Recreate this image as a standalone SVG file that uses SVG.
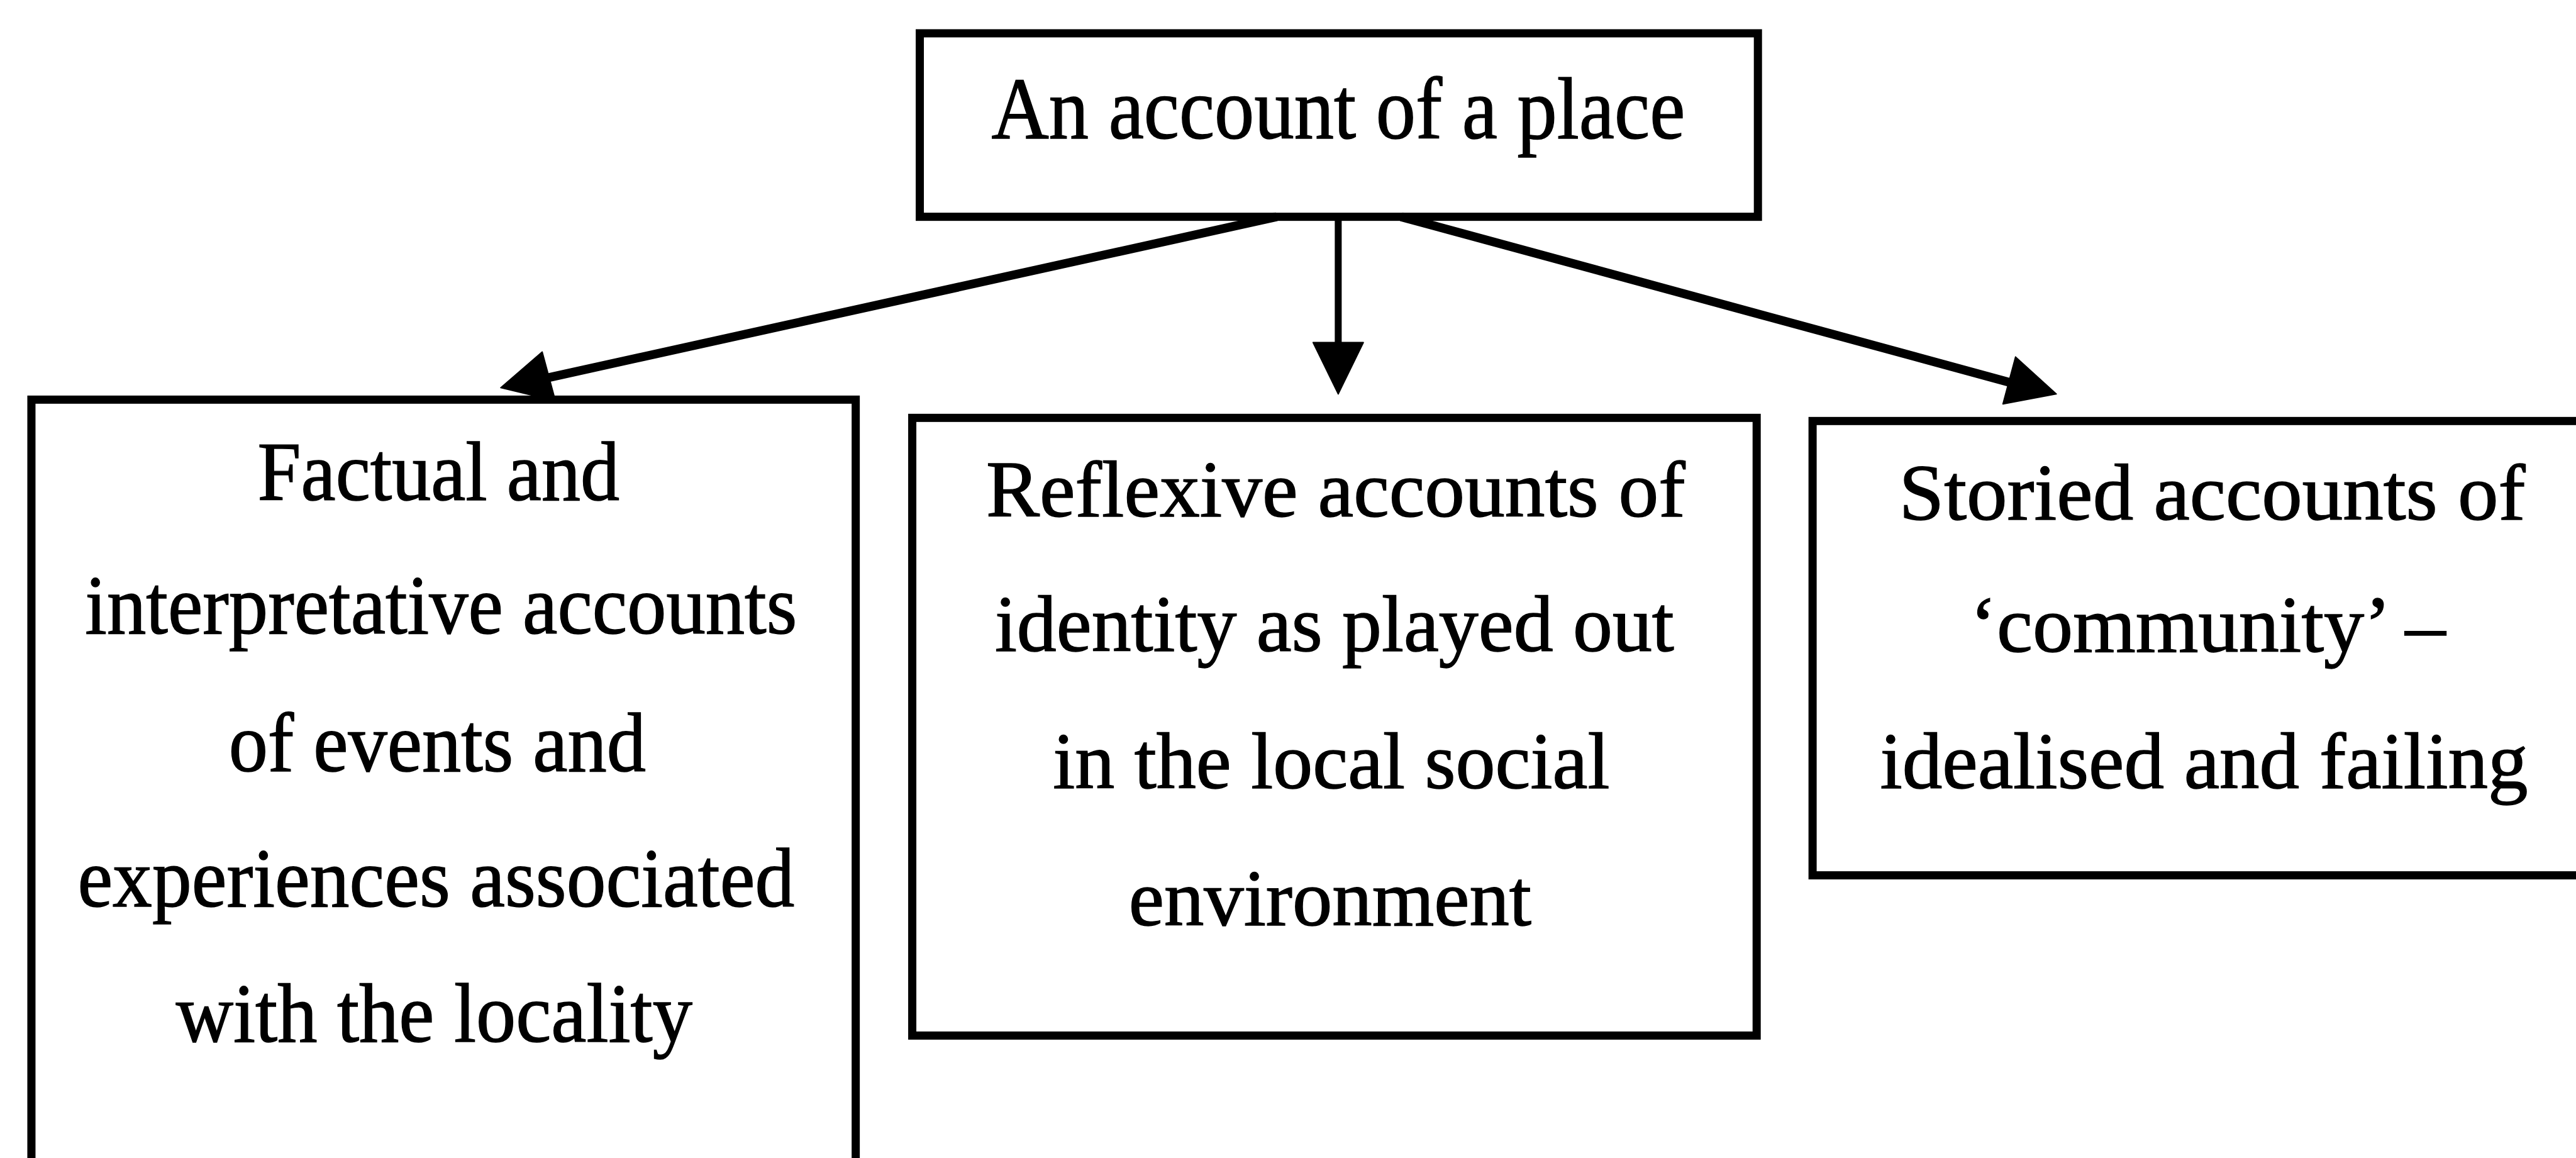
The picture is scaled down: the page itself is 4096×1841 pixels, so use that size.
<svg xmlns="http://www.w3.org/2000/svg" width="4096" height="1841" viewBox="0 0 4096 1841">
<style>
.box{fill:#fff;stroke:#000;stroke-width:13}
.t{font-family:"Liberation Serif","Times New Roman",serif;fill:#000;stroke:#000;stroke-width:1.5;text-anchor:middle}
.tt{font-size:140px}
.tl{font-size:134px}
.tm{font-size:127px}
.tr{font-size:128px}
.ln{stroke:#000;stroke-width:14;fill:none}
.hd{fill:#000;stroke:#000;stroke-width:2;stroke-linejoin:round}
</style>
<rect x="0" y="0" width="4096" height="1841" fill="#fff"/>
<g transform="scale(0.999)">
  <g id="node-top">
    <rect class="box" x="1464" y="53" width="1334" height="292"/>
    <text class="t tt" x="2130" y="220" textLength="1104" lengthAdjust="spacingAndGlyphs">An account of a place</text>
  </g>
  <g id="node-left">
    <rect class="box" x="50" y="636" width="1312" height="1400"/>
    <text class="t tl" x="698" y="796" textLength="576" lengthAdjust="spacingAndGlyphs">Factual and</text>
    <text class="t tl" x="702" y="1008" textLength="1133" lengthAdjust="spacingAndGlyphs">interpretative accounts</text>
    <text class="t tl" x="696" y="1227" textLength="664" lengthAdjust="spacingAndGlyphs">of events and</text>
    <text class="t tl" x="694" y="1442" textLength="1141" lengthAdjust="spacingAndGlyphs">experiences associated</text>
    <text class="t tl" x="691" y="1658" textLength="822" lengthAdjust="spacingAndGlyphs">with the locality</text>
  </g>
  <g id="node-middle">
    <rect class="box" x="1452" y="665" width="1344" height="983"/>
    <text class="t tm" x="2126" y="822" textLength="1113" lengthAdjust="spacingAndGlyphs">Reflexive accounts of</text>
    <text class="t tm" x="2124" y="1036" textLength="1081" lengthAdjust="spacingAndGlyphs">identity as played out</text>
    <text class="t tm" x="2119" y="1254" textLength="886" lengthAdjust="spacingAndGlyphs">in the local social</text>
    <text class="t tm" x="2117" y="1472" textLength="641" lengthAdjust="spacingAndGlyphs">environment</text>
  </g>
  <g id="node-right">
    <rect class="box" x="2885" y="670" width="1400" height="723"/>
    <text class="t tr" x="3521" y="827" textLength="997" lengthAdjust="spacingAndGlyphs">Storied accounts of</text>
    <text class="t tr" x="3514" y="1037" textLength="757" lengthAdjust="spacingAndGlyphs">‘community’ –</text>
    <text class="t tr" x="3508" y="1254" textLength="1031" lengthAdjust="spacingAndGlyphs">idealised and failing</text>
  </g>
  <g id="connectors">
    <line class="ln" x1="2032" y1="345" x2="873" y2="601"/>
    <polygon class="hd" points="797,617 863,560 884,638"/>
    <line class="ln" x1="2130" y1="345" x2="2130" y2="550" style="stroke-width:11"/>
    <polygon class="hd" points="2090,545 2170,545 2130,627"/>
    <line class="ln" x1="2230" y1="345" x2="3197" y2="608"/>
    <polygon class="hd" points="3273,627 3208,568 3188,643"/>
  </g>
</g>
</svg>
